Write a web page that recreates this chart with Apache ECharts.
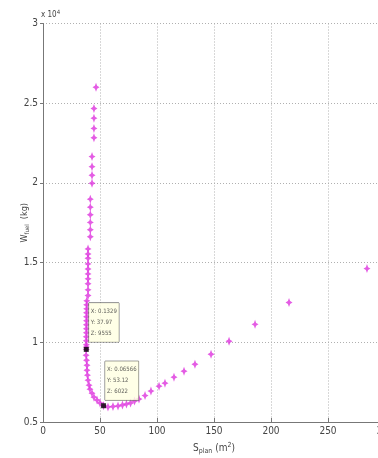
<!DOCTYPE html>
<html>
<head>
<meta charset="utf-8">
<script src="https://cdn.jsdelivr.net/npm/echarts@6/dist/echarts.min.js"></script>
<style>
html,body{margin:0;padding:0;background:#fff;}
#chart{width:378px;height:458px;}
</style>
</head>
<body>
<div id="chart"></div>
<script>
// S_plan (m^2)
const sPlan = [
  46.5, 44.7, 44.7, 44.7, 44.7,
  43.0, 43.0, 43.0, 43.0,
  41.5, 41.5, 41.5, 41.5, 41.5, 41.5,
  39.5, 39.5, 39.5, 39.5, 39.5, 39.5, 39.5, 39.5, 39.5, 39.5,
  38.4, 38.3, 38.3, 38.2, 38.2, 38.2, 38.1, 38.1, 38.1, 38.0, 38.0, 38.0, 38.0,
  37.97,
  37.8, 38.2, 38.6, 38.6, 39.0, 39.5, 40.4, 41.2, 43.0, 44.7, 47.4, 50.0,
  53.12,
  57.0, 61.4, 65.8, 69.7, 73.2, 76.8, 80.3, 84.2, 89.5, 94.7, 101.8, 107.0,
  114.9, 123.7, 133.3, 147.4, 163.2, 186.0, 215.8, 284.2
];
// W_fuel (kg)
const wFuel = [
  26000, 24670, 24060, 23420, 22830,
  21650, 21020, 20480, 19980,
  18980, 18480, 18000, 17520, 17060, 16625,
  15860, 15540, 15270, 14920, 14600, 14290, 13980, 13670, 13290, 12940,
  12600, 12350, 12100, 11850, 11600, 11350, 11100, 10850, 10600, 10350, 10100, 9850, 9700,
  9555,
  9190, 8875, 8560, 8250, 7940, 7625, 7310, 7060, 6810, 6560, 6375, 6190,
  6022,
  5938, 5969, 6000, 6063, 6125, 6188, 6313, 6438, 6656, 6938, 7250, 7438,
  7813, 8188, 8625, 9250, 10063, 11125, 12500, 14625
];
// data tips
const tipParam = ['0.1329', '0.06566'];
const tipS = [37.97, 53.12];
const tipW = [9555, 6022];
const tipOffsets = [[5, -44], [4, -42]];

const xTicks = { min: 0, max: 300, interval: 50 };
const yTicks = { min: 5000, max: 30000, interval: 5000 };

const narrow = "'Liberation Sans Narrow', 'DejaVu Sans Condensed', 'Liberation Sans', sans-serif";
const star = 'path://M0,-1 L0.32,-0.32 L1,0 L0.32,0.32 L0,1 L-0.32,0.32 L-1,0 L-0.32,-0.32Z';

const chart = echarts.init(document.getElementById('chart'), null, { renderer: 'canvas' });
chart.setOption({
  animation: false,
  backgroundColor: '#ffffff',
  grid: { left: 43, top: 23.5, right: -7, bottom: 36, containLabel: false, outerBoundsMode: 'none' },
  xAxis: {
    type: 'value', min: xTicks.min, max: xTicks.max, interval: xTicks.interval,
    name: 'S{sub|plan} (m{sup|2})', nameLocation: 'middle', nameGap: 20, nameMoveOverlap: false,
    nameTextStyle: {
      fontFamily: narrow, fontSize: 10, color: '#444',
      rich: {
        sub: { fontFamily: narrow, fontSize: 7, color: '#444', padding: [6, 0, 0, 0] },
        sup: { fontFamily: narrow, fontSize: 7, color: '#444', padding: [0, 0, 6, 0] }
      }
    },
    axisLine: { show: true, lineStyle: { color: '#777', width: 1 } },
    axisTick: { show: true, inside: true, length: 4, lineStyle: { color: '#777' } },
    axisLabel: { fontFamily: narrow, fontSize: 10, color: '#444', margin: 4 },
    splitLine: { show: true, lineStyle: { color: '#b0b0b0', type: [1, 2], width: 1 } }
  },
  yAxis: {
    type: 'value', min: yTicks.min, max: yTicks.max, interval: yTicks.interval,
    name: 'W{sub|fuel}  (kg)', nameLocation: 'middle', nameGap: 13, nameRotate: 90, nameMoveOverlap: false,
    nameTextStyle: {
      fontFamily: narrow, fontSize: 9, color: '#444',
      rich: {
        sub: { fontFamily: narrow, fontSize: 6, color: '#444', padding: [5, 0, 0, 0] }
      }
    },
    axisLine: { show: true, lineStyle: { color: '#777', width: 1 } },
    axisTick: { show: true, inside: false, length: 3, lineStyle: { color: '#777' } },
    axisLabel: {
      fontFamily: narrow, fontSize: 10, color: '#444', margin: 5,
      formatter: v => String(+(v / 10000).toFixed(1))
    },
    splitLine: { show: true, lineStyle: { color: '#b0b0b0', type: [1, 2], width: 1 } }
  },
  graphic: [{
    type: 'text', left: 41, top: 9,
    style: {
      text: 'x 10{sup|4}', fontFamily: narrow, fontSize: 8, fill: '#444',
      rich: { sup: { fontFamily: narrow, fontSize: 6, fill: '#444', padding: [0, 0, 6, 0] } }
    }
  }],
  series: [
    {
      type: 'scatter',
      data: sPlan.map((s, i) => [s, wFuel[i]]),
      symbol: star, symbolSize: [7, 9],
      itemStyle: { color: '#dd33dd' },
      z: 2
    },
    {
      type: 'scatter',
      data: tipS.map((s, i) => ({
        value: [s, tipW[i]],
        label: { position: tipOffsets[i] }
      })),
      symbol: 'rect', symbolSize: 5,
      itemStyle: { color: '#000' },
      z: 5,
      label: {
        show: true,
        align: 'left', verticalAlign: 'top',
        formatter: p => 'X: ' + tipParam[p.dataIndex] + '\nY: ' + tipS[p.dataIndex] + '\nZ: ' + tipW[p.dataIndex],
        fontFamily: narrow, fontSize: 6, color: '#333', lineHeight: 11,
        backgroundColor: '#ffffe1', borderColor: '#333', borderWidth: 0.5,
        padding: [3, 2, 3, 2]
      }
    }
  ]
});
</script>
</body>
</html>
